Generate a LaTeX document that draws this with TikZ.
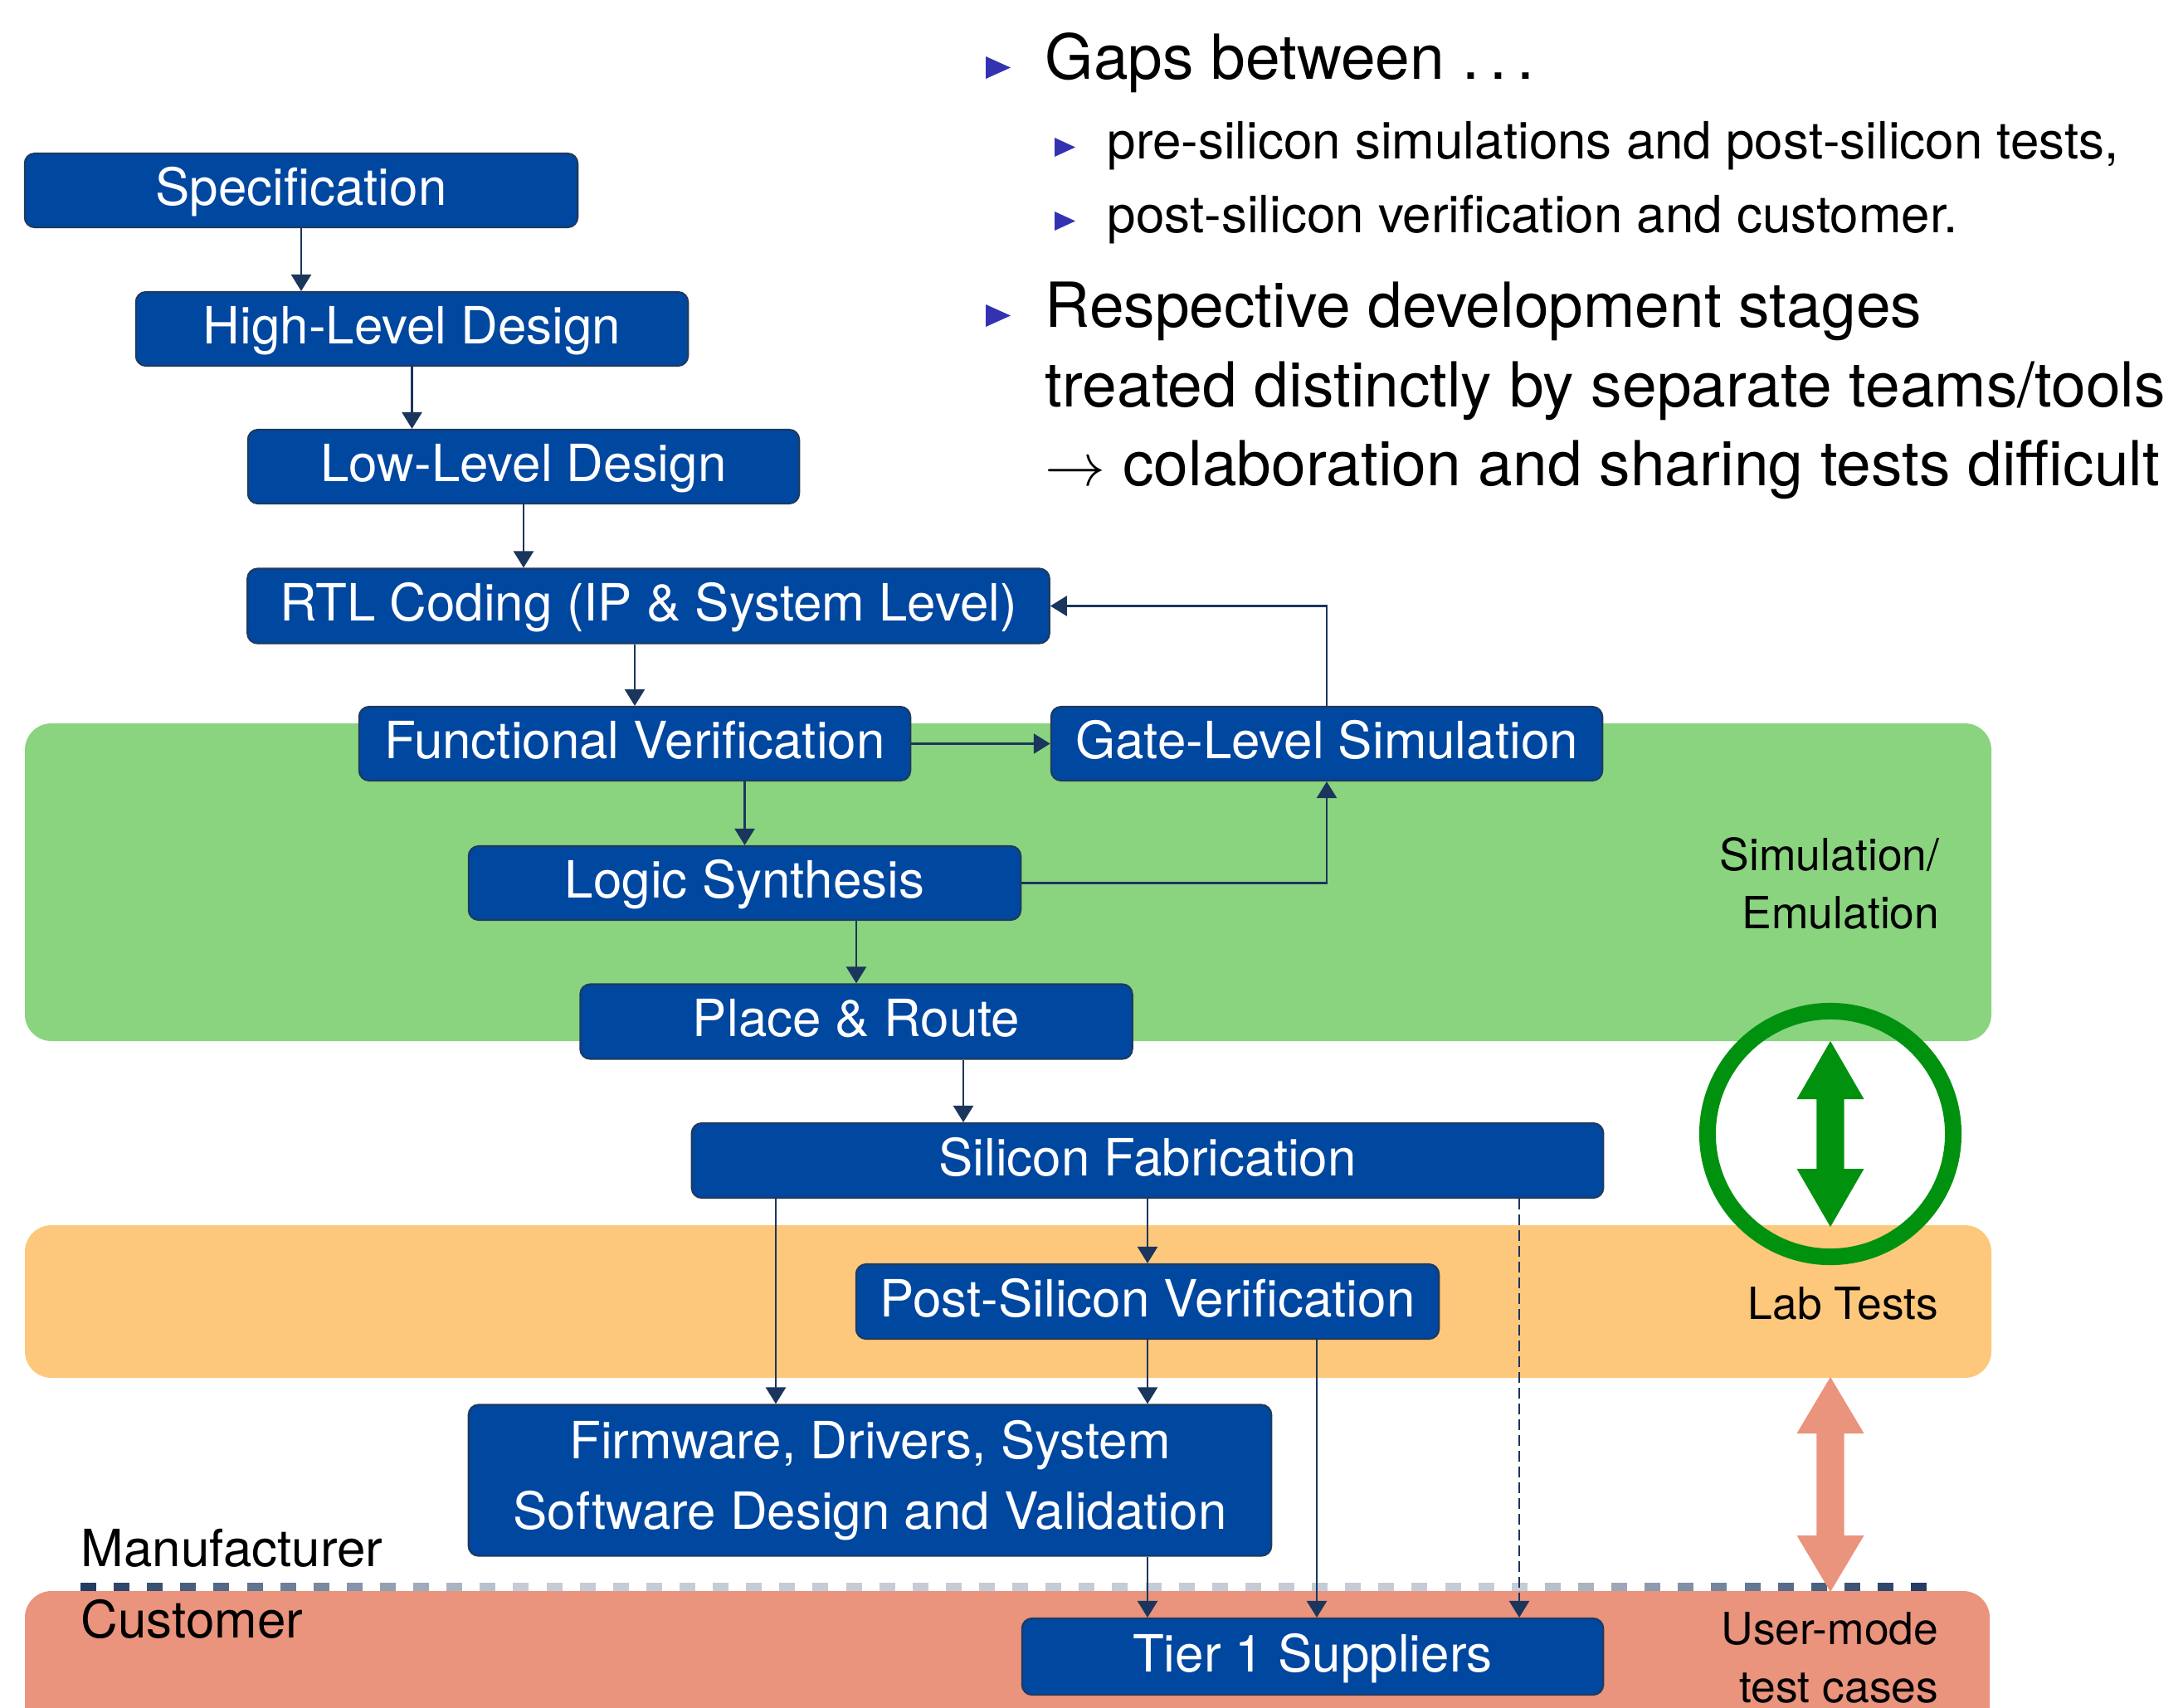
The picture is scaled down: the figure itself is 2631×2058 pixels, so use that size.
\documentclass[tikz,border=0pt]{standalone}
\usepackage{fontspec}
\setmainfont{TeX Gyre Heros}
\usetikzlibrary{arrows.meta}

\newcommand\stagefont{\fontsize{17.6pt}{24.2pt}\selectfont}
\newcommand\labelfont{\fontsize{15.2pt}{19.9pt}\selectfont}
\newcommand\sidefont{\fontsize{17.6pt}{21pt}\selectfont}
\newcommand\itemfont{\fontsize{21.3pt}{27pt}\selectfont}

\definecolor{stagefill}{HTML}{0047A0}
\definecolor{stageline}{HTML}{1E3A5F}
\definecolor{connclr}{HTML}{1B365D}
\definecolor{simgreen}{HTML}{8AD480}
\definecolor{laborange}{HTML}{FDC87C}
\definecolor{custsalmon}{HTML}{EA937D}
\definecolor{ringgreen}{HTML}{00920F}
\definecolor{bulletblue}{rgb}{0.2,0.2,0.7}
\definecolor{dashdark}{HTML}{233D63}
\definecolor{dashlight}{HTML}{C4CCD7}

\begin{document}
\begin{tikzpicture}[x=0.01cm, y=-0.01cm,
  stage/.style={draw=stageline, line width=0.6pt, fill=stagefill,
    rounded corners=0.12cm, text=white, font=\stagefont, inner sep=0pt,
    align=center},
  oneline/.style={stage, text height=13.8pt, text depth=3.4pt},
  conn/.style={draw=connclr, line width=0.75pt,
    -{Triangle[length=0.2cm,width=0.24cm]}},
  band/.style={rounded corners=0.32cm},
  sidelabel/.style={font=\labelfont, inner sep=0pt, text=black},
  partylabel/.style={font=\sidefont, inner sep=0pt, text=black, anchor=base west},
  itemtext/.style={font=\itemfont, inner sep=0pt, anchor=base west},
  subtext/.style={font=\stagefont, inner sep=0pt, anchor=base west}]

\useasboundingbox (0,0) rectangle (2631,2058);
\fill[white] (0,0) rectangle (2631,2058);

% background bands
\fill[simgreen, band] (30,872) rectangle (2400,1255);
\fill[laborange, band] (30,1477) rectangle (2400,1661);
\begin{scope}
  \clip (0,0) rectangle (2631,2058);
  \fill[custsalmon, band] (30,1918) rectangle (2398,2200);
\end{scope}

% manufacturer / customer divider
\foreach \i in {0,...,55} {
  \pgfmathsetmacro\dx{97+40.11*\i}
  \pgfmathtruncatemacro\t{100*min(1,min((\dx-97)/520,(2303-\dx)/480))}
  \colorlet{dashcol}{dashlight!\t!dashdark}
  \fill[dashcol] (\dx,1908) rectangle ++(19,10);
}

% ring with double arrow
\draw[ringgreen, line width=0.2cm] (2206,1367) circle[radius=1.48cm];
\fill[ringgreen] (2206,1255) -- (2246.5,1325) -- (2222.7,1325) -- (2222.7,1409)
  -- (2246.5,1409) -- (2206,1479) -- (2165.5,1409) -- (2189.3,1409)
  -- (2189.3,1325) -- (2165.5,1325) -- cycle;
\fill[custsalmon] (2206,1660) -- (2246.5,1728) -- (2222.7,1728) -- (2222.7,1851)
  -- (2246.5,1851) -- (2206,1919) -- (2165.5,1851) -- (2189.3,1851)
  -- (2189.3,1728) -- (2165.5,1728) -- cycle;

% side labels
\node[sidelabel, anchor=base east] (simlab) at (2338,1119)
  {\begin{tabular}[b]{@{}r@{}}Simulation/\\Emulation\end{tabular}};
\node[sidelabel, anchor=base east] (lablab) at (2337,1590) {Lab Tests};
\node[sidelabel, anchor=base east] (userlab) at (2337,2052)
  {\begin{tabular}[b]{@{}r@{}}User-mode\\test cases\end{tabular}};
\node[partylabel] (manlab) at (97,1888) {Manufacturer};
\node[partylabel] (custlab) at (97,1974) {Customer};

% design flow stages
\node[oneline, minimum width=6.66cm, minimum height=0.89cm] (spec) at (363,229.5) {Specification};
\node[oneline, minimum width=6.65cm, minimum height=0.89cm] (hld) at (496.5,396.5) {High-Level Design};
\node[oneline, minimum width=6.64cm, minimum height=0.89cm] (lld) at (631,562.5) {Low-Level Design};
\node[oneline, minimum width=9.66cm, minimum height=0.90cm] (rtl) at (781.5,730.5) {RTL Coding (IP \& System Level)};
\node[oneline, minimum width=6.64cm, minimum height=0.89cm] (fv) at (765,896.5) {Functional Verification};
\node[oneline, minimum width=6.64cm, minimum height=0.89cm] (gls) at (1599,896.5) {Gate-Level Simulation};
\node[oneline, minimum width=6.65cm, minimum height=0.89cm] (ls) at (897.5,1064.5) {Logic Synthesis};
\node[oneline, minimum width=6.65cm, minimum height=0.90cm] (pr) at (1032,1231.5) {Place \& Route};
\node[oneline, minimum width=10.98cm, minimum height=0.90cm] (sf) at (1383,1399) {Silicon Fabrication};
\node[oneline, minimum width=7.02cm, minimum height=0.90cm] (psv) at (1383,1569) {Post-Silicon Verification};
\node[stage, minimum width=9.67cm, minimum height=1.82cm] (fw) at (1048.5,1784.5)
  {Firmware, Drivers, System\\Software Design and Validation};
\node[oneline, minimum width=7.00cm, minimum height=0.92cm] (t1) at (1582,1997) {Tier 1 Suppliers};

% connector columns
\coordinate (xpr) at (1161,0);
\coordinate (xfwl) at (935,0);
\coordinate (xpt) at (1587,0);
\coordinate (xsd) at (1831,0);

% connectors
\draw[conn] (spec.south) -- (spec.south |- hld.north);
\draw[conn] (hld.south) -- (hld.south |- lld.north);
\draw[conn] (lld.south) -- (lld.south |- rtl.north);
\draw[conn] (fv.north |- rtl.south) -- (fv.north);
\draw[conn] (fv.east) -- (gls.west);
\draw[conn] (gls.north) |- (rtl.east);
\draw[conn] (ls.north |- fv.south) -- (ls.north);
\draw[conn] (ls.east) -| (gls.south);
\draw[conn] (pr.north |- ls.south) -- (pr.north);
\draw[conn] (pr.south -| xpr) -- (sf.north -| xpr);
\draw[conn] (sf.south) -- (psv.north);
\draw[conn] (sf.south -| xfwl) -- (fw.north -| xfwl);
\draw[conn] (psv.south) -- (psv.south |- fw.north);
\draw[conn] (fw.south -| psv.south) -- (t1.north -| psv.south);
\draw[conn] (psv.south -| xpt) -- (t1.north -| xpt);
\draw[conn, dash pattern=on 0.13cm off 0.06cm] (sf.south -| xsd) -- (t1.north -| xsd);

% bullet list
\fill[bulletblue] (1188,68) -- (1218,81.5) -- (1188,95) -- cycle;
\node[itemtext] (gaps) at (1259,96) {Gaps between .\,.\,.};
\fill[bulletblue] (1271,166) -- (1296,177.5) -- (1271,189) -- cycle;
\node[subtext] (gapa) at (1334,192) {pre-silicon simulations and post-silicon tests,};
\fill[bulletblue] (1271,255) -- (1296,266.5) -- (1271,278) -- cycle;
\node[subtext] (gapb) at (1334,281) {post-silicon verification and customer.};
\fill[bulletblue] (1188,367) -- (1218,380.5) -- (1188,394) -- cycle;
\node[itemtext] (resp) at (1259,395) {Respective development stages};
\node[itemtext] (treat) at (1259,490) {treated distinctly by separate teams/tools};
\node[itemtext] (colab) at (1259,585) {$\rightarrow$ colaboration and sharing tests difficult};

\end{tikzpicture}
\end{document}
